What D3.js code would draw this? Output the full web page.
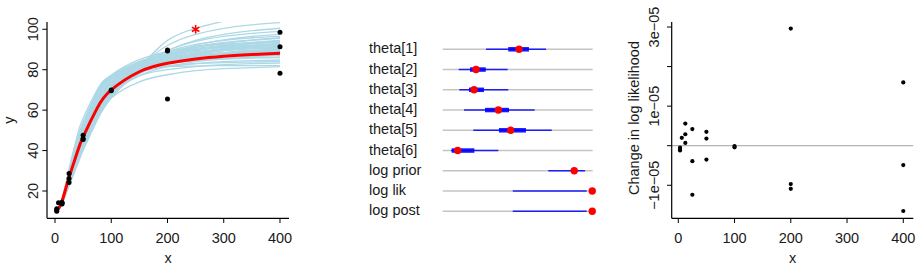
<!DOCTYPE html>
<html lang="en">
<head>
<meta charset="UTF-8">
<title>Dose response fit</title>
<script src="https://cdnjs.cloudflare.com/ajax/libs/d3/7.8.5/d3.min.js"></script>
<style>
  body { margin: 0; background: #fff; font-family: "Liberation Sans", Arial, sans-serif; }
  text { fill: #1a1a1a; font-size: 14.5px; }
</style>
</head>
<body>
<svg id="chart" width="923" height="279"></svg>
<script>
// observed data (left and right panels)
var doseX = [3.125, 3.125, 3.125, 6.25, 12.5, 12.5, 12.5, 25, 25, 25, 50, 50, 50, 100, 100, 200, 200, 200, 400, 400, 400];
var respY = [10.0, 10.6, 11.2, 14.2, 13.6, 14.0, 14.5, 24.2, 26.2, 28.6, 45.5, 46.0, 47.6, 69.6, 70.0, 65.5, 89.2, 89.7, 78.2, 91.4, 98.5];
// change in log likelihood, in units of 1e-05
var deltaLL = [-0.05, -0.08, -0.12, 0.2, 0.07, 0.29, 0.56, -1.24, -0.39, 0.42, -0.35, 0.18, 0.35, -0.04, -0.01, -1.09, -0.97, 2.96, -1.65, -0.49, 1.6];

// posterior draws of the curve, read at these x values
var drawX = [0, 10, 25, 40, 50, 75, 100, 150, 200, 250, 300, 350, 400];
var draws = [
  [9.5, 13.0, 31.0, 48.0, 56.0, 70.0, 77.0, 80.5, 81.5, 81.8, 82.0, 82.0, 82.0],
  [9.5, 12.5, 24.0, 36.0, 42.0, 56.0, 66.0, 74.0, 77.5, 79.5, 80.5, 81.0, 81.5],
  [9.5, 13.0, 29.0, 45.0, 53.0, 68.0, 75.5, 80.0, 82.0, 83.0, 83.5, 83.8, 84.0],
  [9.5, 12.8, 26.0, 39.0, 46.0, 61.0, 70.0, 77.0, 80.0, 81.5, 82.5, 83.0, 83.3],
  [9.5, 13.0, 28.0, 42.0, 50.0, 65.0, 73.5, 80.0, 83.0, 84.5, 85.3, 85.8, 86.0],
  [9.5, 13.5, 30.0, 46.0, 54.0, 69.0, 77.0, 82.5, 85.0, 86.0, 86.5, 86.8, 87.0],
  [9.5, 13.0, 27.0, 40.5, 48.0, 63.0, 72.0, 79.5, 83.5, 85.5, 86.5, 87.2, 87.6],
  [9.5, 12.8, 25.5, 38.0, 45.0, 60.0, 69.5, 78.5, 83.0, 85.5, 87.0, 88.0, 88.7],
  [9.5, 13.2, 28.0, 43.0, 51.0, 66.5, 75.0, 82.0, 85.5, 87.3, 88.3, 89.0, 89.4],
  [9.5, 12.8, 25.0, 37.0, 44.0, 59.0, 68.5, 78.0, 83.5, 86.5, 88.3, 89.5, 90.3],
  [9.5, 13.5, 29.0, 44.5, 53.0, 68.5, 77.0, 84.0, 87.5, 89.0, 89.8, 90.3, 90.6],
  [9.5, 12.6, 24.5, 36.0, 43.0, 58.0, 68.0, 78.5, 84.5, 88.0, 90.0, 91.3, 92.2],
  [9.5, 13.0, 27.0, 41.0, 49.0, 64.5, 74.0, 82.5, 87.0, 89.5, 91.0, 92.0, 92.6],
  [9.5, 12.5, 23.5, 35.0, 42.0, 57.0, 67.0, 78.5, 85.5, 89.5, 92.0, 93.5, 94.5],
  [9.5, 13.2, 28.0, 43.5, 52.0, 68.0, 77.4, 85.0, 89.0, 91.3, 92.6, 93.4, 94.0],
  [9.5, 12.8, 25.5, 38.5, 46.0, 62.0, 72.0, 82.0, 87.5, 91.0, 93.0, 94.5, 95.5],
  [9.5, 12.4, 23.0, 34.0, 41.0, 56.0, 66.5, 79.0, 87.0, 92.0, 94.8, 96.5, 97.5],
  [9.5, 13.0, 26.5, 40.0, 48.0, 64.0, 74.0, 83.5, 89.0, 92.5, 94.5, 95.8, 96.5],
  [9.5, 12.5, 23.5, 35.0, 42.0, 57.5, 68.0, 81.0, 89.5, 94.5, 97.5, 99.3, 100.5],
  [9.5, 12.6, 24.0, 36.0, 43.0, 58.5, 69.0, 81.5, 89.5, 94.0, 96.5, 98.0, 99.0],
  [9.5, 12.3, 22.5, 33.0, 40.0, 55.0, 66.0, 81.0, 94.5, 100.5, 104.0, 106.5, 108.0],
  [9.5, 12.4, 23.0, 34.0, 41.0, 56.5, 67.5, 81.5, 92.0, 97.5, 100.5, 102.2, 103.3],
  [9.5, 13.2, 27.5, 42.0, 50.0, 66.0, 75.5, 83.5, 87.5, 89.8, 91.0, 91.8, 92.3],
  [9.5, 13.3, 29.5, 45.0, 53.5, 69.0, 77.0, 83.0, 86.0, 87.5, 88.3, 88.8, 89.1],
  [9.5, 12.9, 26.5, 39.5, 47.0, 62.5, 71.5, 80.0, 84.5, 87.0, 88.5, 89.5, 90.0],
  [9.5, 12.7, 25.0, 37.5, 45.0, 60.5, 70.0, 79.5, 85.0, 88.3, 90.5, 92.0, 93.0],
  [9.5, 13.1, 27.0, 41.5, 49.5, 65.0, 74.0, 81.5, 85.0, 86.8, 87.8, 88.4, 88.8],
  [9.5, 12.9, 26.0, 39.0, 46.5, 62.0, 71.0, 79.5, 84.0, 86.5, 88.0, 89.0, 89.6],
  [9.5, 12.7, 25.0, 37.0, 44.5, 60.0, 69.5, 79.0, 84.5, 87.5, 89.5, 90.8, 91.6],
  [9.5, 13.2, 28.5, 44.0, 52.0, 67.0, 75.5, 81.5, 84.0, 85.0, 85.6, 86.0, 86.2],
  [9.5, 12.9, 27.0, 41.0, 48.5, 63.0, 71.5, 78.5, 81.5, 83.0, 84.0, 84.5, 84.8],
  [9.5, 12.6, 24.5, 36.5, 43.5, 58.5, 68.0, 77.0, 81.5, 84.0, 85.5, 86.5, 87.2],
  [9.5, 13.0, 27.5, 42.5, 50.5, 66.0, 75.0, 83.5, 88.0, 90.5, 92.0, 93.0, 93.6],
  [9.5, 12.7, 25.0, 37.5, 45.0, 61.0, 71.0, 81.0, 86.5, 89.5, 91.5, 92.8, 93.7],
  [9.5, 12.5, 24.0, 35.5, 42.5, 57.5, 67.5, 78.0, 84.0, 87.5, 89.8, 91.2, 92.2],
  [9.5, 13.1, 28.0, 43.0, 51.5, 67.5, 76.5, 84.0, 88.0, 90.0, 91.3, 92.0, 92.5],
  [9.5, 12.8, 26.0, 39.5, 47.0, 63.5, 73.5, 83.0, 88.5, 91.5, 93.5, 94.8, 95.8],
  [9.5, 12.9, 26.5, 40.0, 47.5, 63.0, 72.5, 81.0, 85.5, 88.0, 89.5, 90.5, 91.2],
  [9.5, 13.3, 29.0, 44.5, 52.5, 68.0, 76.0, 82.0, 84.5, 85.8, 86.5, 87.0, 87.3],
  [9.5, 12.6, 24.0, 36.0, 43.5, 59.0, 69.5, 80.0, 86.0, 89.5, 91.8, 93.3, 94.3],
  [9.5, 12.8, 25.5, 38.0, 45.5, 61.5, 71.5, 80.5, 85.5, 88.5, 90.3, 91.5, 92.3],
  [9.5, 13.0, 27.0, 41.0, 49.0, 64.0, 73.0, 81.0, 84.5, 86.5, 87.7, 88.5, 89.0]
];

// posterior median curve
var fitX = [3, 10, 18, 25, 40, 50, 75, 100, 150, 200, 250, 300, 350, 400];
var fitY = [10.2, 13.2, 20.0, 26.8, 39.5, 46.8, 61.0, 70.0, 79.0, 83.2, 85.3, 86.6, 87.5, 88.1];

// marked point
var starX = [250];
var starY = [100];

// middle panel: scaled posterior summaries (0 = min, 1 = max of each row)
var paramLabels = ["theta[1]", "theta[2]", "theta[3]", "theta[4]", "theta[5]", "theta[6]", "log prior", "log lik", "log post"];
var lo95 = [0.289, 0.107, 0.111, 0.142, 0.204, 0.055, 0.704, 0.467, 0.467];
var hi95 = [0.689, 0.433, 0.437, 0.613, 0.727, 0.371, 0.949, 0.960, 0.960];
var lo50 = [0.437, 0.182, 0.175, 0.282, 0.375, 0.060, null, null, null];
var hi50 = [0.575, 0.287, 0.275, 0.442, 0.555, 0.211, null, null, null];
var med  = [0.509, 0.222, 0.209, 0.371, 0.453, 0.100, 0.877, 0.997, 0.997];

var xTicks = [0, 100, 200, 300, 400];
var yTicks = [20, 40, 60, 80, 100];
var llTicks = [-1, 0, 1, 2, 3];
var llLabels = ["\u22121e\u221205", "", "1e\u221205", "", "3e\u221205"];

var svg = d3.select("#chart");
var obs = doseX.map(function(d, i) { return {x: d, y: respY[i], ll: deltaLL[i]}; });

// ---------- left panel ----------
var x1 = d3.scaleLinear().domain([-14.2, 416]).range([47, 289]);
var y1 = d3.scaleLinear().domain([6.5, 103.6]).range([218.3, 22]);

svg.append("clipPath").attr("id", "clip1")
  .append("rect").attr("x", 47).attr("y", 22).attr("width", 242).attr("height", 196.3);

var p1 = svg.append("g");
var plot1 = p1.append("g").attr("clip-path", "url(#clip1)");

var drawLine = d3.line()
  .x(function(d) { return x1(d[0]); })
  .y(function(d) { return y1(d[1]); })
  .curve(d3.curveNatural);

plot1.selectAll(".draw")
  .data(draws)
  .enter().append("path")
  .attr("class", "draw")
  .attr("fill", "none")
  .attr("stroke", "#add8e6")
  .attr("stroke-width", 1.3)
  .attr("d", function(vals) { return drawLine(vals.map(function(v, i) { return [drawX[i], v]; })); });

plot1.append("path")
  .datum(fitX.map(function(d, i) { return [d, fitY[i]]; }))
  .attr("fill", "none")
  .attr("stroke", "#ff0000")
  .attr("stroke-width", 3)
  .attr("d", drawLine);

plot1.selectAll(".pt")
  .data(obs)
  .enter().append("circle")
  .attr("class", "pt")
  .attr("cx", function(d) { return x1(d.x); })
  .attr("cy", function(d) { return y1(d.y); })
  .attr("r", 2.5)
  .attr("fill", "#000");

p1.selectAll(".star")
  .data(starX)
  .enter().append("path")
  .attr("class", "star")
  .attr("transform", function(d, i) { return "translate(" + x1(d) + "," + y1(starY[i]) + ")"; })
  .attr("d", d3.symbol(d3.symbolAsterisk, 52))
  .attr("fill", "none")
  .attr("stroke", "#ff0000")
  .attr("stroke-width", 1.6);

function bottomAxis(g, xs, ticks, labels) {
  var r = xs.range();
  g.append("line").attr("x1", r[0]).attr("x2", r[1]).attr("y1", 218.3).attr("y2", 218.3)
    .attr("stroke", "#000").attr("stroke-width", 1.2);
  ticks.forEach(function(t, i) {
    g.append("line").attr("x1", xs(t)).attr("x2", xs(t)).attr("y1", 218.3).attr("y2", 223)
      .attr("stroke", "#000").attr("stroke-width", 1);
    g.append("text").attr("x", xs(t)).attr("y", 242.5).attr("text-anchor", "middle")
      .text(labels ? labels[i] : t);
  });
  g.append("text").attr("x", (r[0] + r[1]) / 2).attr("y", 262.5).attr("text-anchor", "middle").text("x");
}

function leftAxis(g, x0, ys, ticks, labels, labelX) {
  var r = ys.range();
  g.append("line").attr("x1", x0).attr("x2", x0).attr("y1", r[0]).attr("y2", r[1])
    .attr("stroke", "#000").attr("stroke-width", 1.2);
  ticks.forEach(function(t, i) {
    g.append("line").attr("x1", x0 - 4.7).attr("x2", x0).attr("y1", ys(t)).attr("y2", ys(t))
      .attr("stroke", "#000").attr("stroke-width", 1);
    var lab = labels ? labels[i] : t;
    if (lab !== "") {
      g.append("text").attr("transform", "translate(" + labelX + "," + ys(t) + ") rotate(-90)")
        .attr("text-anchor", "middle").text(lab);
    }
  });
}

bottomAxis(p1, x1, xTicks);
leftAxis(p1, 47, y1, yTicks, null, 37.5);
p1.append("text").attr("transform", "translate(13.5,120) rotate(-90)")
  .attr("text-anchor", "middle").text("y");

// ---------- middle panel ----------
var rowY = d3.scalePoint().domain(paramLabels).range([49.3, 211.3]);
var u = d3.scaleLinear().domain([0, 1]).range([442.7, 592.7]);
var p2 = svg.append("g");

var rows = p2.selectAll(".row")
  .data(paramLabels)
  .enter().append("g")
  .attr("class", "row")
  .attr("transform", function(d) { return "translate(0," + rowY(d) + ")"; });

rows.append("text").attr("x", 369).attr("y", 4).text(function(d) { return d; });

rows.append("line").attr("x1", u(0)).attr("x2", u(1))
  .attr("stroke", "#c4c4c4").attr("stroke-width", 1.4);

rows.append("line")
  .attr("x1", function(d, i) { return u(lo95[i]); })
  .attr("x2", function(d, i) { return u(hi95[i]); })
  .attr("stroke", "#0000ff").attr("stroke-opacity", 0.85).attr("stroke-width", 1.6);

rows.filter(function(d, i) { return lo50[i] !== null; })
  .append("line")
  .attr("x1", function(d) { return u(lo50[paramLabels.indexOf(d)]); })
  .attr("x2", function(d) { return u(hi50[paramLabels.indexOf(d)]); })
  .attr("stroke", "#0000ff").attr("stroke-opacity", 0.9).attr("stroke-width", 4.5);

rows.append("circle")
  .attr("cx", function(d, i) { return u(med[i]); })
  .attr("r", 3.7)
  .attr("fill", "#ff0000");

// ---------- right panel ----------
var x3 = d3.scaleLinear().domain([-11.7, 417.8]).range([671.7, 913.3]);
var y3 = d3.scaleLinear().domain([-1.835, 3.127]).range([218.3, 22]);
var p3 = svg.append("g");

p3.append("line").attr("x1", 671.7).attr("x2", 913.3).attr("y1", y3(0)).attr("y2", y3(0))
  .attr("stroke", "#b4b4b4").attr("stroke-width", 1.3);

p3.selectAll(".pt")
  .data(obs)
  .enter().append("circle")
  .attr("class", "pt")
  .attr("cx", function(d) { return x3(d.x); })
  .attr("cy", function(d) { return y3(d.ll); })
  .attr("r", 2.1)
  .attr("fill", "#000");

bottomAxis(p3, x3, xTicks);
leftAxis(p3, 671.7, y3, llTicks, llLabels, 659);
p3.append("text").attr("transform", "translate(639,118) rotate(-90)")
  .attr("text-anchor", "middle").text("Change in log likelihood");
</script>
</body>
</html>
